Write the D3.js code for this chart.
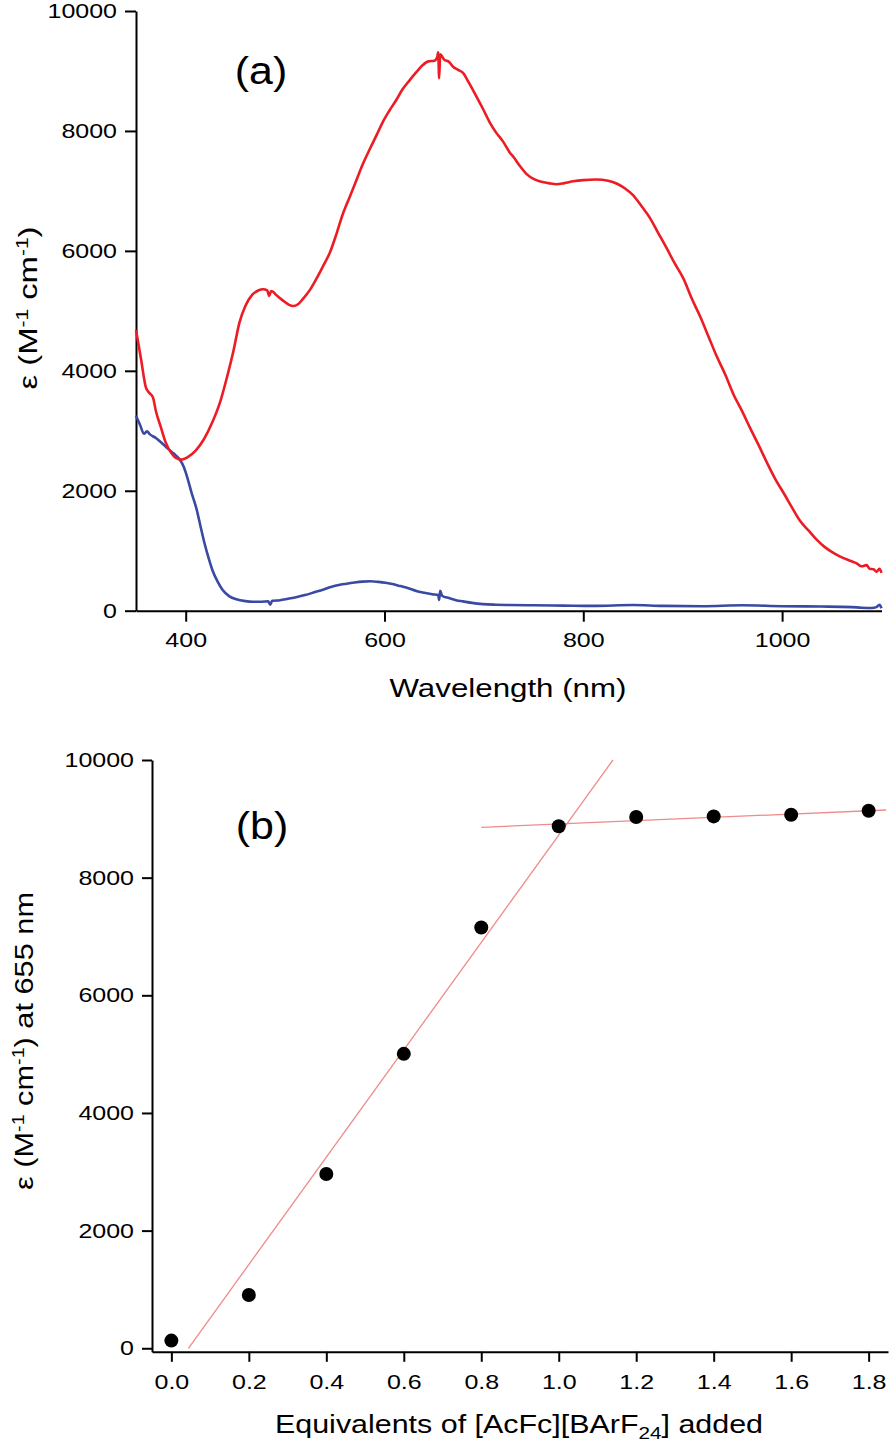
<!DOCTYPE html>
<html>
<head>
<meta charset="utf-8">
<script src="https://cdn.jsdelivr.net/npm/d3@7"></script>
<style>
  body { margin: 0; background: #fff; }
  svg { display: block; background: #fff; }
  text { font-family: "Liberation Sans", Arial, sans-serif; fill: #000; }
</style>
</head>
<body>
<svg width="890" height="1448"></svg>
<script>
// ---- panel (a): absorption spectra ----
const redNm = [350, 355, 360, 363, 367, 370, 375, 380, 385, 390, 396, 402, 410, 418, 427, 435, 441, 448, 454, 460,
  467, 473, 478, 482, 484, 486, 492, 498, 504, 508, 513, 518, 525, 531, 538, 545, 552, 558, 565, 572,
  578, 585, 592, 598, 605, 612, 618, 625, 632, 638, 644, 650, 653, 654, 655, 656, 660, 665, 669, 674,
  679, 685, 692, 699, 706, 712, 719, 726, 730, 736, 743, 750, 756, 765, 773, 781, 790, 800, 813, 825,
  834, 842, 850, 858, 867, 875, 884, 892, 901, 909, 918, 926, 934, 943, 951, 960, 968, 977, 985, 993,
  1002, 1010, 1018, 1027, 1035, 1043, 1052, 1060, 1069, 1075, 1080, 1085, 1088, 1092, 1095, 1098, 1100];
const redEps = [4680, 4200, 3720, 3640, 3560, 3330, 3060, 2800, 2640, 2550, 2520, 2560, 2670, 2850, 3150, 3500, 3860, 4330, 4800, 5080,
  5270, 5340, 5360, 5340, 5250, 5330, 5250, 5170, 5100, 5080, 5110, 5200, 5350, 5520, 5740, 5970, 6300, 6610, 6900, 7190,
  7440, 7690, 7930, 8140, 8340, 8520, 8690, 8840, 8980, 9090, 9160, 9170, 9230, 9310, 8880, 9280, 9190, 9150, 9070, 9020,
  8970, 8800, 8590, 8370, 8140, 7980, 7830, 7640, 7560, 7420, 7280, 7200, 7160, 7130, 7110, 7130, 7160, 7180, 7190, 7170,
  7120, 7040, 6930, 6760, 6550, 6310, 6040, 5790, 5530, 5210, 4890, 4570, 4250, 3930, 3610, 3320, 3040, 2740, 2460, 2200,
  1950, 1720, 1500, 1330, 1180, 1060, 960, 890, 830, 790, 740, 760, 700, 690, 650, 700, 630];

const blueNm = [350, 354, 358, 361, 364, 370, 377, 383, 388, 394, 398, 402, 406, 411, 415, 419, 423, 427, 432, 437,
  444, 451, 460, 468, 476, 483, 485, 487, 495, 503, 511, 520, 530, 538, 546, 554, 562, 570, 578, 586,
  594, 601, 608, 616, 624, 632, 640, 648, 654, 655, 656, 658, 665, 672, 679, 688, 699, 712, 726, 750,
  780, 810, 850, 880, 920, 960, 1000, 1040, 1070, 1080, 1090, 1095, 1098, 1100];
const blueEps = [3250, 3100, 2950, 2990, 2940, 2880, 2780, 2690, 2620, 2520, 2400, 2200, 1960, 1690, 1400, 1120, 880, 670, 490, 350,
  240, 190, 160, 150, 150, 155, 100, 165, 175, 200, 225, 260, 310, 350, 395, 430, 450, 470, 485, 492,
  480, 465, 445, 410, 375, 330, 300, 275, 260, 180, 330, 250, 210, 175, 155, 130, 110, 100, 95, 90,
  85, 80, 95, 80, 75, 90, 75, 70, 60, 50, 45, 60, 100, 40];

const wlTicks = [400, 600, 800, 1000];
const epsTicks = [0, 2000, 4000, 6000, 8000, 10000];

// ---- panel (b): titration at 655 nm ----
const equivalents = [0.0, 0.2, 0.4, 0.6, 0.8, 1.0, 1.2, 1.4, 1.6, 1.8];
const eps655 = [130, 906, 2963, 5005, 7153, 8875, 9030, 9041, 9070, 9138];
const fitRiseX = [0.044, 1.14];
const fitRiseY = [0, 10000];
const fitFlatX = [0.8, 1.845];
const fitFlatY = [8856, 9150];
const eqTicks = [0.0, 0.2, 0.4, 0.6, 0.8, 1.0, 1.2, 1.4, 1.6, 1.8];

const svg = d3.select("svg");
const stretch = 1.25; // the original lettering is wider than Arial

function styleAxis(g) {
    g.select(".domain").attr("stroke", "#000").attr("stroke-width", 2);
    g.selectAll(".tick line").attr("stroke", "#000").attr("stroke-width", 2);
    g.selectAll(".tick text")
        .attr("font-size", 20)
        .attr("font-family", "Liberation Sans, Arial, sans-serif")
        .attr("fill", "#000")
        .each(function () {
            const t = d3.select(this);
            const x = +t.attr("x") || 0;
            t.attr("x", x / stretch).attr("transform", `scale(${stretch},1)`);
        });
}

// rotated axis title, superscripts given as {sup: "..."}
function yTitle(x, y, len, parts) {
    const t = svg.append("text")
        .attr("transform", `translate(${x},${y}) rotate(-90)`)
        .attr("text-anchor", "middle")
        .attr("font-size", 25)
        .attr("textLength", len)
        .attr("lengthAdjust", "spacingAndGlyphs");
    let shift = 0;
    parts.forEach(p => {
        if (p.sup) {
            t.append("tspan").attr("font-size", 16).attr("dy", -9 - shift).text(p.sup);
            shift = -9;
        } else {
            t.append("tspan").attr("dy", -shift).text(p.txt);
            shift = 0;
        }
    });
    return t;
}

// ===== panel (a) =====
const xA = d3.scaleLinear().domain([350, 1100]).range([136, 881.5]);
const yA = d3.scaleLinear().domain([0, 10000]).range([610.7, 11]);

svg.append("g")
    .attr("transform", `translate(0,${yA(0)})`)
    .call(d3.axisBottom(xA).tickValues(wlTicks).tickFormat(d3.format("d"))
        .tickSize(11).tickPadding(11).tickSizeOuter(0))
    .call(styleAxis);

svg.append("g")
    .attr("transform", `translate(${xA(350)},0)`)
    .call(d3.axisLeft(yA).tickValues(epsTicks).tickFormat(d3.format("d"))
        .tickSize(11).tickPadding(8).tickSizeOuter(0))
    .call(styleAxis);

const lineA = d3.line()
    .x(d => xA(d[0]))
    .y(d => yA(d[1]))
    .curve(d3.curveMonotoneX);

svg.append("path")
    .datum(d3.zip(blueNm, blueEps))
    .attr("fill", "none")
    .attr("stroke", "#3a4aa3")
    .attr("stroke-width", 2.6)
    .attr("stroke-linejoin", "round")
    .attr("d", lineA);

svg.append("path")
    .datum(d3.zip(redNm, redEps))
    .attr("fill", "none")
    .attr("stroke", "#ec1c24")
    .attr("stroke-width", 2.6)
    .attr("stroke-linejoin", "round")
    .attr("d", lineA);

svg.append("text")
    .attr("x", 508).attr("y", 697)
    .attr("text-anchor", "middle")
    .attr("font-size", 25)
    .attr("textLength", 237)
    .attr("lengthAdjust", "spacingAndGlyphs")
    .text("Wavelength (nm)");

yTitle(37, 308, 163, [{ txt: "ε (M" }, { sup: "-1" }, { txt: " cm" }, { sup: "-1" }, { txt: ")" }]);

svg.append("text")
    .attr("transform", "translate(261,84) scale(1.1,1)")
    .attr("text-anchor", "middle")
    .attr("font-size", 39)
    .text("(a)");

// ===== panel (b) =====
const xB = d3.scaleLinear().domain([-0.05, 1.85]).range([152, 888]);
const yB = d3.scaleLinear().domain([-60, 10000]).range([1351.8, 760]);

svg.append("g")
    .attr("transform", `translate(0,${yB(-60)})`)
    .call(d3.axisBottom(xB).tickValues(eqTicks).tickFormat(d3.format(".1f"))
        .tickSize(10).tickPadding(13).tickSizeOuter(0))
    .call(styleAxis);

svg.append("g")
    .attr("transform", `translate(${xB(-0.05)},0)`)
    .call(d3.axisLeft(yB).tickValues(epsTicks).tickFormat(d3.format("d"))
        .tickSize(10).tickPadding(8).tickSizeOuter(0))
    .call(styleAxis);

const lineB = d3.line().x(d => xB(d[0])).y(d => yB(d[1]));

svg.append("path")
    .datum(d3.zip(fitRiseX, fitRiseY))
    .attr("fill", "none")
    .attr("stroke", "#ef8a8a")
    .attr("stroke-width", 1.3)
    .attr("d", lineB);

svg.append("path")
    .datum(d3.zip(fitFlatX, fitFlatY))
    .attr("fill", "none")
    .attr("stroke", "#ef8a8a")
    .attr("stroke-width", 1.3)
    .attr("d", lineB);

svg.append("g")
    .selectAll("circle")
    .data(d3.zip(equivalents, eps655))
    .enter().append("circle")
    .attr("cx", d => xB(d[0]))
    .attr("cy", d => yB(d[1]))
    .attr("r", 7)
    .attr("fill", "#000");

const xt = svg.append("text")
    .attr("x", 519).attr("y", 1433)
    .attr("text-anchor", "middle")
    .attr("font-size", 25)
    .attr("textLength", 488)
    .attr("lengthAdjust", "spacingAndGlyphs");
xt.append("tspan").text("Equivalents of [AcFc][BArF");
xt.append("tspan").attr("font-size", 17).attr("dy", 6).text("24");
xt.append("tspan").attr("dy", -6).text("] added");

yTitle(33, 1041, 298, [{ txt: "ε (M" }, { sup: "-1" }, { txt: " cm" }, { sup: "-1" }, { txt: ") at 655 nm" }]);

svg.append("text")
    .attr("transform", "translate(262,839) scale(1.1,1)")
    .attr("text-anchor", "middle")
    .attr("font-size", 39)
    .text("(b)");
</script>
</body>
</html>
